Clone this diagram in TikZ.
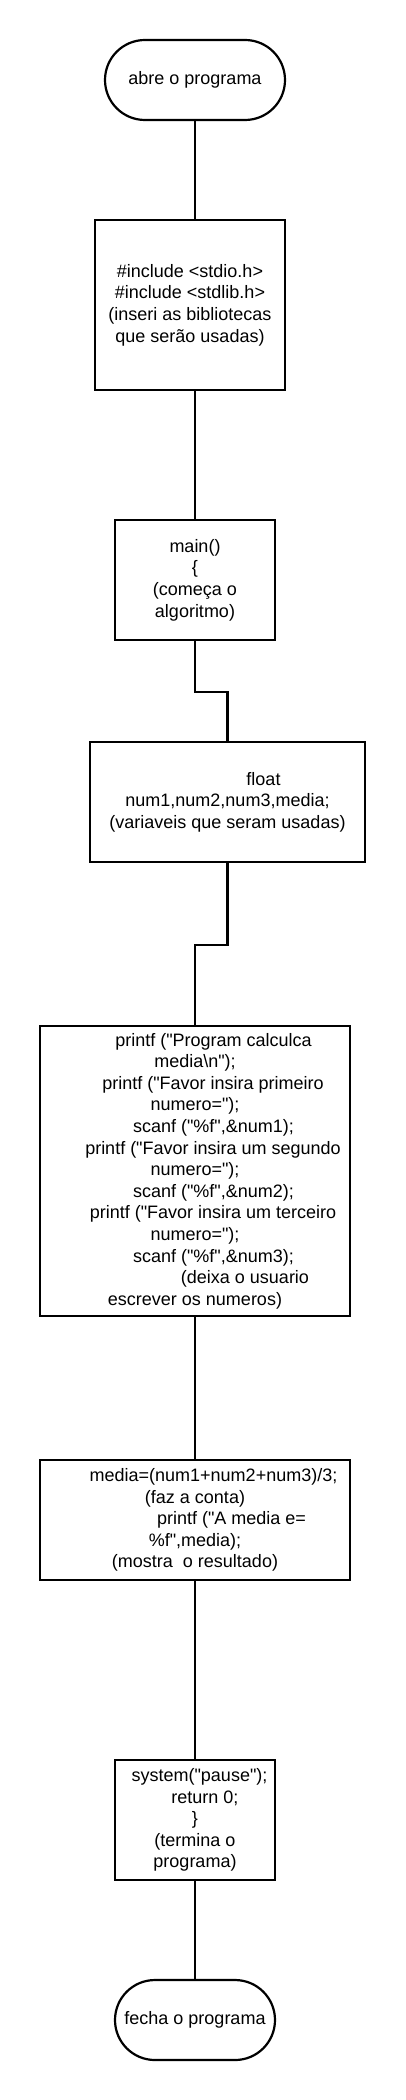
\documentclass[tikz,border=0pt]{standalone}
\usepackage{fontspec}
\setmainfont{Liberation Sans}[Ligatures=TeXOff]
\usetikzlibrary{calc}
\newcommand{\sh}[1]{\hspace*{#1pt}}

\begin{document}
\begin{tikzpicture}[x=1pt,y=-1pt,line width=2.2pt,inner sep=0pt,
	box/.style={draw,align=center,font=\fontsize{18}{21.6}\selectfont},
	term/.style={box,rounded corners=40pt,minimum height=80pt}]

\useasboundingbox (0,0) rectangle (405,2100);

\node[term,minimum width=180pt] (t1) at (195,80) {abre o programa};
\node[box,minimum width=190pt,minimum height=170pt] (p1) at (190,305)
	{\#include <stdio.h>\\ \#include <stdlib.h>\\ (inseri as bibliotecas\\ que serão usadas)};
\node[box,minimum width=160pt,minimum height=120pt] (p2) at (195,580)
	{main()\\ \{\\ (começa o\\ algoritmo)};
\node[box,minimum width=275pt,minimum height=120pt] (p3) at (227.5,802)
	{\sh{72}float\\ num1,num2,num3,media;\\ (variaveis que seram usadas)};
\node[box,minimum width=310pt,minimum height=290pt] (p4) at (195,1171)
	{\sh{37}printf ("Program calculca\\ media\textbackslash n");\\
	\sh{36}printf ("Favor insira primeiro\\ numero=");\\ \sh{37}scanf ("\%f",\&num1);\\
	\sh{36}printf ("Favor insira um segundo\\ numero=");\\ \sh{37}scanf ("\%f",\&num2);\\
	\sh{36}printf ("Favor insira um terceiro\\ numero=");\\ \sh{37}scanf ("\%f",\&num3);\\
	\sh{100}(deixa o usuario\\ escrever os numeros)};
\node[box,minimum width=310pt,minimum height=120pt] (p5) at (195,1520)
	{\sh{37}media=(num1+num2+num3)/3;\\ (faz a conta)\\ \sh{73}printf ("A media e=\\
	\%f",media);\\ (mostra~ o resultado)};
\node[box,minimum width=160pt,minimum height=120pt] (p6) at (195,1820)
	{\sh{9}system("pause");\\ \sh{20}return 0;\\ \}\\ (termina o\\ programa)};
\node[term,minimum width=160pt] (t2) at (195,2020) {fecha o programa};

\draw (t1.south) -- (t1.south |- p1.north);
\draw (t1.south |- p1.south) -- (p2.north);
\draw (p2.south) -- ++(0,51) -| (p3.north);
\draw (p3.south) -- ++(0,82) -| (p4.north);
\draw (p4.south) -- (p5.north) (p5.south) -- (p6.north) (p6.south) -- (t2.north);

\end{tikzpicture}
\end{document}
